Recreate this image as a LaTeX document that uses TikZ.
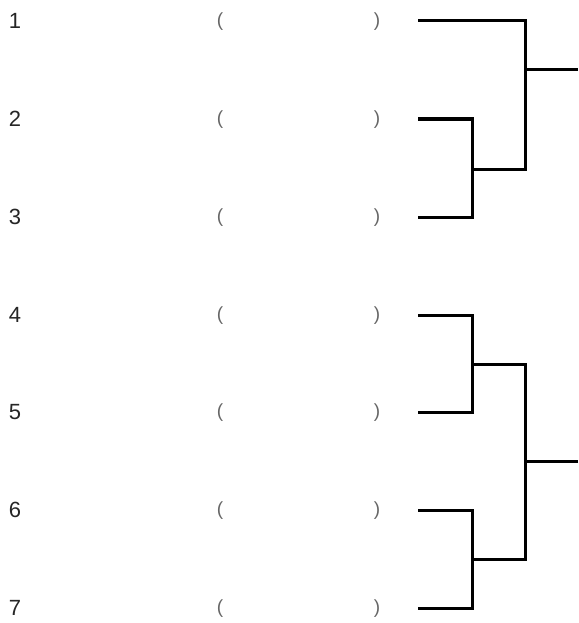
\documentclass[tikz,border=0pt]{standalone}
\usepackage{fontspec}
\setmainfont{Liberation Sans}
\begin{document}
\begin{tikzpicture}[x=1pt,y=-1pt,
  num/.style={inner sep=0pt,font=\fontsize{22}{22}\selectfont,text=black!85},
  par/.style={inner sep=0pt,font=\fontsize{19}{19}\selectfont,text=black!60},
  wire/.style={line width=3pt,line join=miter,black}]
\useasboundingbox (0,0) rectangle (578,623);
\foreach \i/\y in {1/21,2/119,3/217,4/315,5/412,6/510,7/608}{
  \node[num] (n\i) at (15,\y) {\i};
  \node[par] (l\i) at (220,\y+1) {(};
  \node[par] (r\i) at (377,\y+1) {)};
  \coordinate (s\i) at (418,\y);
}
% top bracket
\coordinate (j23) at (472,169);
\coordinate (a1) at (525,169);
\coordinate (o1) at (578,70);
\draw[wire] (s2) -| (j23) |- (s3);
\draw[wire] (s1) -| (a1) -- (j23);
\draw[wire] (o1) -- (o1 -| a1);
% bottom bracket
\coordinate (j45) at (472,364);
\coordinate (j67) at (472,559);
\coordinate (b1) at (525,364);
\coordinate (b2) at (525,559);
\coordinate (o2) at (578,461);
\draw[wire] (s4) -| (j45) |- (s5);
\draw[wire] (s6) -| (j67) |- (s7);
\draw[wire] (j45) -- (b1) -- (b2) -- (j67);
\draw[wire] (o2) -- (o2 -| b1);
\end{tikzpicture}
\end{document}
